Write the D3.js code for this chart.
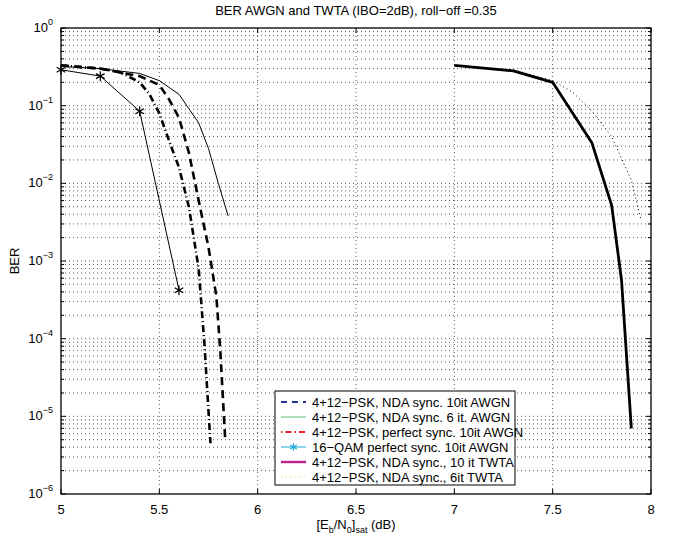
<!DOCTYPE html>
<html>
<head>
<meta charset="utf-8">
<script src="https://cdn.jsdelivr.net/npm/d3@7"></script>
<style>
  body { margin: 0; background: #fff; }
  svg { font-family: "Liberation Sans", Arial, sans-serif; }
</style>
</head>
<body>
<div id="chart"></div>
<script>
// valores
const xTicks = [5, 5.5, 6, 6.5, 7, 7.5, 8];
const yExps = [0, -1, -2, -3, -4, -5, -6];

const ebNda10 = [5, 5.2, 5.4, 5.5, 5.55, 5.6, 5.65, 5.7, 5.75, 5.79, 5.81, 5.835];
const berNda10 = [0.33, 0.3, 0.24, 0.185, 0.12, 0.07, 0.025, 0.006, 1.5e-3, 3.5e-4, 7e-5, 5e-6];

const ebNda6 = [5, 5.2, 5.4, 5.5, 5.6, 5.7, 5.75, 5.8, 5.85];
const berNda6 = [0.32, 0.3, 0.26, 0.21, 0.14, 0.06, 0.028, 0.01, 3.8e-3];

const ebPerf = [5, 5.2, 5.3, 5.4, 5.45, 5.5, 5.55, 5.6, 5.65, 5.7, 5.73, 5.76];
const berPerf = [0.33, 0.3, 0.27, 0.2, 0.14, 0.08, 0.035, 0.016, 0.005, 8e-4, 8e-5, 4.5e-6];

const ebQam = [5, 5.2, 5.4, 5.6];
const berQam = [0.29, 0.24, 0.085, 4.2e-4];

const ebTwta10 = [7, 7.3, 7.5, 7.7, 7.8, 7.85, 7.9];
const berTwta10 = [0.33, 0.28, 0.2, 0.033, 5.2e-3, 5.7e-4, 7e-6];

const ebTwta6 = [7, 7.3, 7.5, 7.6, 7.7, 7.8, 7.9, 7.95];
const berTwta6 = [0.33, 0.29, 0.21, 0.15, 0.085, 0.04, 0.011, 3.3e-3];

const legendLabels = [
  "4+12\u2212PSK, NDA sync. 10it AWGN",
  "4+12\u2212PSK, NDA sync. 6 it. AWGN",
  "4+12\u2212PSK, perfect sync. 10it AWGN",
  "16\u2212QAM perfect sync. 10it AWGN",
  "4+12\u2212PSK, NDA sync., 10 it TWTA",
  "4+12\u2212PSK, NDA sync., 6it TWTA"
];

const margin = { top: 28, right: 22, bottom: 44, left: 61 };
const width = 673 - margin.left - margin.right;
const height = 538 - margin.top - margin.bottom;
const fs = 13;

const root = d3.select("#chart").append("svg")
  .attr("width", 673).attr("height", 538);
const svg = root.append("g")
  .attr("transform", `translate(${margin.left},${margin.top})`);

const x = d3.scaleLinear().domain([5, 8]).range([0, width]);
const y = d3.scaleLog().domain([1e-6, 1]).range([height, 0]);

// grade
const minorY = [];
for (let e = -6; e < 0; e++) for (let m = 1; m < 10; m++) minorY.push(m * Math.pow(10, e));

svg.append("g").selectAll("line").data(xTicks.slice(1, -1)).join("line")
  .attr("x1", d => x(d)).attr("x2", d => x(d))
  .attr("y1", 0).attr("y2", height)
  .attr("stroke", "#333").attr("stroke-width", 0.8).attr("stroke-dasharray", "1,3");

svg.append("g").selectAll("line").data(minorY.slice(1)).join("line")
  .attr("x1", 0).attr("x2", width)
  .attr("y1", d => y(d)).attr("y2", d => y(d))
  .attr("stroke", "#333").attr("stroke-width", 0.8).attr("stroke-dasharray", "1,3");

// curvas
const line = d3.line().x(d => x(d[0])).y(d => y(d[1]));
const pairs = (a, b) => a.map((v, i) => [v, b[i]]);

const series = [
  { pts: pairs(ebNda10, berNda10), w: 2.6, dash: "8,5" },
  { pts: pairs(ebNda6, berNda6), w: 1, dash: null },
  { pts: pairs(ebPerf, berPerf), w: 2.6, dash: "7,3,1,3" },
  { pts: pairs(ebQam, berQam), w: 1, dash: null, marker: true },
  { pts: pairs(ebTwta10, berTwta10), w: 2.8, dash: null },
  { pts: pairs(ebTwta6, berTwta6), w: 1, dash: "1,3" }
];

const curves = svg.append("g");
series.forEach(s => {
  curves.append("path")
    .attr("d", line(s.pts))
    .attr("fill", "none")
    .attr("stroke", "#000")
    .attr("stroke-width", s.w)
    .attr("stroke-dasharray", s.dash)
    .attr("stroke-linejoin", "round");
});

const star = d3.symbol().type(d3.symbolAsterisk).size(70);
curves.selectAll(".star").data(series[3].pts).join("path")
  .attr("class", "star")
  .attr("transform", d => `translate(${x(d[0])},${y(d[1])})`)
  .attr("d", star())
  .attr("fill", "none").attr("stroke", "#000").attr("stroke-width", 1.2);

// eixos e marcas internas
const axes = svg.append("g");
axes.append("rect").attr("width", width).attr("height", height)
  .attr("fill", "none").attr("stroke", "#000").attr("stroke-width", 1.3);

xTicks.forEach(t => {
  axes.append("line").attr("x1", x(t)).attr("x2", x(t)).attr("y1", height).attr("y2", height - 5).attr("stroke", "#000");
  axes.append("line").attr("x1", x(t)).attr("x2", x(t)).attr("y1", 0).attr("y2", 5).attr("stroke", "#000");
  axes.append("text").attr("x", x(t)).attr("y", height + 20)
    .attr("text-anchor", "middle").attr("font-size", fs).text(t);
});

minorY.concat([1]).forEach(v => {
  const major = Math.abs(Math.log10(v) - Math.round(Math.log10(v))) < 1e-9;
  const len = major ? 5 : 3;
  axes.append("line").attr("x1", 0).attr("x2", len).attr("y1", y(v)).attr("y2", y(v)).attr("stroke", "#000");
  axes.append("line").attr("x1", width).attr("x2", width - len).attr("y1", y(v)).attr("y2", y(v)).attr("stroke", "#000");
});

yExps.forEach(e => {
  const t = axes.append("text").attr("x", -8).attr("y", y(Math.pow(10, e)) + 4)
    .attr("text-anchor", "end").attr("font-size", fs);
  t.append("tspan").text("10");
  t.append("tspan").attr("dy", -7).attr("font-size", 9).text(e === 0 ? "0" : "\u2212" + (-e));
});

// titulos
root.append("text").attr("x", margin.left + width / 2).attr("y", 15)
  .attr("text-anchor", "middle").attr("font-size", fs)
  .text("BER AWGN and TWTA (IBO=2dB), roll\u2212off =0.35");

root.append("text").attr("transform", `translate(19,${margin.top + height / 2}) rotate(-90)`)
  .attr("text-anchor", "middle").attr("font-size", fs).text("BER");

const xl = root.append("text").attr("x", margin.left + width / 2).attr("y", 529)
  .attr("text-anchor", "middle").attr("font-size", fs);
xl.append("tspan").text("[E");
xl.append("tspan").attr("dy", 4).attr("font-size", 9).text("b");
xl.append("tspan").attr("dy", -4).text("/N");
xl.append("tspan").attr("dy", 4).attr("font-size", 9).text("0");
xl.append("tspan").attr("dy", -4).text("]");
xl.append("tspan").attr("dy", 4).attr("font-size", 9).text("sat");
xl.append("tspan").attr("dy", -4).text(" (dB)");

// legenda
const legendStyles = [
  { color: "#26349a", w: 2.2, dash: "6,5" },
  { color: "#5cc07a", w: 1, dash: null },
  { color: "#e8242c", w: 2.2, dash: "1.5,3,6,3" },
  { color: "#1aa8dc", w: 1, dash: null, marker: true },
  { color: "#c0208a", w: 2.4, dash: null },
  { color: "#e4dc80", w: 1.2, dash: "1.5,3" }
];

const lg = svg.append("g").attr("transform", `translate(${275 - margin.left},${391 - margin.top})`);
lg.append("rect").attr("width", 240).attr("height", 94)
  .attr("fill", "#fff").attr("stroke", "#000").attr("stroke-width", 1);

legendLabels.forEach((label, i) => {
  const ly = 11 + i * 15;
  const st = legendStyles[i];
  lg.append("line").attr("x1", 6).attr("x2", 31).attr("y1", ly).attr("y2", ly)
    .attr("stroke", st.color).attr("stroke-width", st.w).attr("stroke-dasharray", st.dash);
  if (st.marker) {
    lg.append("path").attr("transform", `translate(18.5,${ly})`)
      .attr("d", d3.symbol().type(d3.symbolAsterisk).size(40)())
      .attr("fill", "none").attr("stroke", st.color).attr("stroke-width", 1.2);
  }
  lg.append("text").attr("x", 37).attr("y", ly + 4.5).attr("font-size", fs).text(label);
});
</script>
</body>
</html>
